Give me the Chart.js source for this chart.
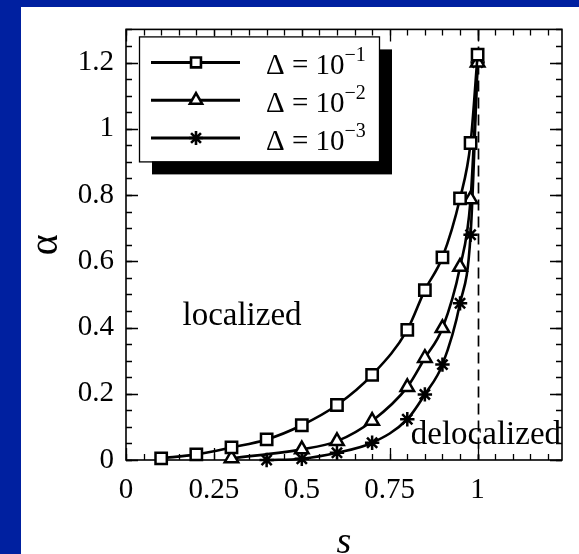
<!DOCTYPE html>
<html>
<head>
<meta charset="utf-8">
<script src="https://cdn.jsdelivr.net/npm/chart.js@4"></script>
<style>
  html, body { margin: 0; padding: 0; background: #0020a0; }
  #chart { display: block; }
</style>
</head>
<body>
<canvas id="chart" width="579" height="554"></canvas>
<script>
// data
const sSquare = [0.1, 0.2, 0.3, 0.4, 0.5, 0.6, 0.7, 0.8, 0.85, 0.9, 0.95, 0.98, 1.0];
const aSquare = [0.005, 0.017, 0.038, 0.062, 0.105, 0.166, 0.257, 0.393, 0.513, 0.612, 0.79, 0.957, 1.224];
const sTriangle = [0.3, 0.5, 0.6, 0.7, 0.8, 0.85, 0.9, 0.95, 0.98, 1.0];
const aTriangle = [0.005, 0.032, 0.057, 0.118, 0.22, 0.308, 0.398, 0.583, 0.787, 1.2];
const sStar = [0.4, 0.5, 0.6, 0.7, 0.8, 0.85, 0.9, 0.95, 0.98, 1.0];
const aStar = [0.0, 0.004, 0.022, 0.052, 0.123, 0.198, 0.288, 0.473, 0.68, 1.2];

const legendExps = ['\u22121', '\u22122', '\u22123'];
const pointStyles = ['rect', 'triangle', 'star'];
const xTicks = [0, 0.25, 0.5, 0.75, 1];
const yTicks = [0, 0.2, 0.4, 0.6, 0.8, 1, 1.2];
const criticalS = 1;

const SERIF = '"Liberation Serif", "DejaVu Serif", serif';
const toPoints = (xs, ys) => xs.map((x, i) => ({x: x, y: ys[i]}));

function minorTicks(min, max, step) {
    const out = [];
    for (let v = min; v <= max + 1e-9; v += step) out.push(Math.round(v * 1000) / 1000);
    return out;
}

const mkSet = (label, data, style, r) => ({
    label: label, data: data, showLine: true, clip: false,
    borderColor: '#000', borderWidth: 2.6, cubicInterpolationMode: 'monotone',
    pointStyle: style, pointRadius: r, pointHoverRadius: r,
    pointBorderWidth: 2.5, pointBorderColor: '#000', pointBackgroundColor: '#fff'
});

const framePlugin = {
    id: 'frame',
    beforeDraw(chart) {
        const ctx = chart.ctx;
        ctx.save();
        ctx.fillStyle = '#0020a0';
        ctx.fillRect(0, 0, chart.width, chart.height);
        ctx.fillStyle = '#fff';
        ctx.fillRect(21, 7, chart.width - 21, chart.height - 7);
        ctx.restore();
    },
    beforeDatasetsDraw(chart) {
        const {ctx, chartArea: a, scales} = chart;
        const xs = scales.x, ys = scales.y;
        ctx.save();
        ctx.strokeStyle = '#000';
        ctx.lineWidth = 1.3;
        const drawX = (vals, len) => vals.forEach(v => {
            const px = Math.round(xs.getPixelForValue(v)) + 0.5;
            ctx.beginPath();
            ctx.moveTo(px, a.bottom); ctx.lineTo(px, a.bottom - len);
            ctx.moveTo(px, a.top); ctx.lineTo(px, a.top + len);
            ctx.stroke();
        });
        const drawY = (vals, len) => vals.forEach(v => {
            const py = Math.round(ys.getPixelForValue(v)) + 0.5;
            ctx.beginPath();
            ctx.moveTo(a.left, py); ctx.lineTo(a.left + len, py);
            ctx.moveTo(a.right, py); ctx.lineTo(a.right - len, py);
            ctx.stroke();
        });
        drawX(minorTicks(0, 1.24, 0.05), 6);
        drawX(xTicks, 12);
        drawY(minorTicks(0, 1.3, 0.05), 6);
        drawY(yTicks, 12);
        // critical line
        const cx = Math.round(xs.getPixelForValue(criticalS)) + 0.5;
        ctx.setLineDash([11, 6]);
        ctx.lineWidth = 1.7;
        ctx.beginPath();
        ctx.moveTo(cx, a.top); ctx.lineTo(cx, a.bottom);
        ctx.stroke();
        ctx.setLineDash([]);
        ctx.lineWidth = 1.6;
        ctx.strokeRect(a.left, a.top, a.right - a.left, a.bottom - a.top);
        // region labels
        ctx.fillStyle = '#000';
        ctx.font = '33px ' + SERIF;
        ctx.textBaseline = 'alphabetic';
        ctx.textAlign = 'center';
        ctx.fillText('localized', xs.getPixelForValue(0.33), ys.getPixelForValue(0.407));
        ctx.textAlign = 'left';
        ctx.fillText('delocalized', xs.getPixelForValue(0.81), ys.getPixelForValue(0.047));
        ctx.restore();
    },
    afterDraw(chart) {
        const {ctx, chartArea: a} = chart;
        const bx = a.left + 13, by = a.top + 7, bw = 240, bh = 125;
        ctx.save();
        ctx.fillStyle = '#000';
        ctx.fillRect(bx + 13, by + 13, bw, bh);
        ctx.fillStyle = '#fff';
        ctx.fillRect(bx, by, bw, bh);
        ctx.strokeStyle = '#000';
        ctx.lineWidth = 1.3;
        ctx.strokeRect(bx + 0.5, by + 0.5, bw, bh);
        chart.data.datasets.forEach((ds, i) => {
            const ry = by + 26 + i * 37.8;
            ctx.strokeStyle = '#000';
            ctx.lineWidth = 3;
            ctx.beginPath();
            ctx.moveTo(bx + 12, ry); ctx.lineTo(bx + 101, ry);
            ctx.stroke();
            ctx.fillStyle = '#fff';
            ctx.lineWidth = 2.6;
            Chart.helpers.drawPoint(ctx, {pointStyle: ds.pointStyle, radius: 7, borderWidth: 2.6}, bx + 57, ry);
            ctx.fillStyle = '#000';
            ctx.textAlign = 'left';
            ctx.textBaseline = 'alphabetic';
            ctx.font = '29px ' + SERIF;
            const main = '\u0394 = 10';
            ctx.fillText(main, bx + 127, ry + 11.5);
            const w = ctx.measureText(main).width;
            ctx.font = '20px ' + SERIF;
            ctx.fillText(legendExps[i], bx + 127 + w, ry - 1.5);
        });
        ctx.restore();
    }
};

new Chart(document.getElementById('chart'), {
    type: 'scatter',
    data: {
        datasets: [
            mkSet('\u0394 = 10^-1', toPoints(sSquare, aSquare), pointStyles[0], 8),
            mkSet('\u0394 = 10^-2', toPoints(sTriangle, aTriangle), pointStyles[1], 7.8),
            mkSet('\u0394 = 10^-3', toPoints(sStar, aStar), pointStyles[2], 7.2)
        ]
    },
    options: {
        responsive: false,
        animation: false,
        layout: {padding: {top: 25, right: 17, left: 0, bottom: 0}},
        plugins: {legend: {display: false}, tooltip: {enabled: false}},
        scales: {
            x: {
                type: 'linear', min: 0, max: 1.24,
                grid: {display: false, drawTicks: false},
                border: {display: false},
                afterBuildTicks: s => { s.ticks = xTicks.map(v => ({value: v})); },
                afterFit: s => { s.height = 94; },
                ticks: {
                    color: '#000', padding: 13, maxRotation: 0, autoSkip: false,
                    font: {family: SERIF, size: 29},
                    callback: v => String(v)
                },
                title: {
                    display: true, text: 's', color: '#000',
                    font: {family: SERIF, size: 38, style: 'italic', lineHeight: 0.6},
                    padding: 0
                }
            },
            y: {
                type: 'linear', min: 0, max: 1.3,
                grid: {display: false, drawTicks: false},
                border: {display: false},
                afterBuildTicks: s => { s.ticks = yTicks.map(v => ({value: v})); },
                afterFit: s => { s.width = 126; },
                ticks: {
                    color: '#000', padding: 12, autoSkip: false,
                    font: {family: SERIF, size: 29},
                    callback: v => String(v)
                },
                title: {
                    display: true, text: '\u03b1', color: '#000',
                    font: {family: SERIF, size: 40, lineHeight: 1},
                    padding: {top: 26, bottom: 0}
                }
            }
        }
    },
    plugins: [framePlugin]
});
</script>
</body>
</html>
